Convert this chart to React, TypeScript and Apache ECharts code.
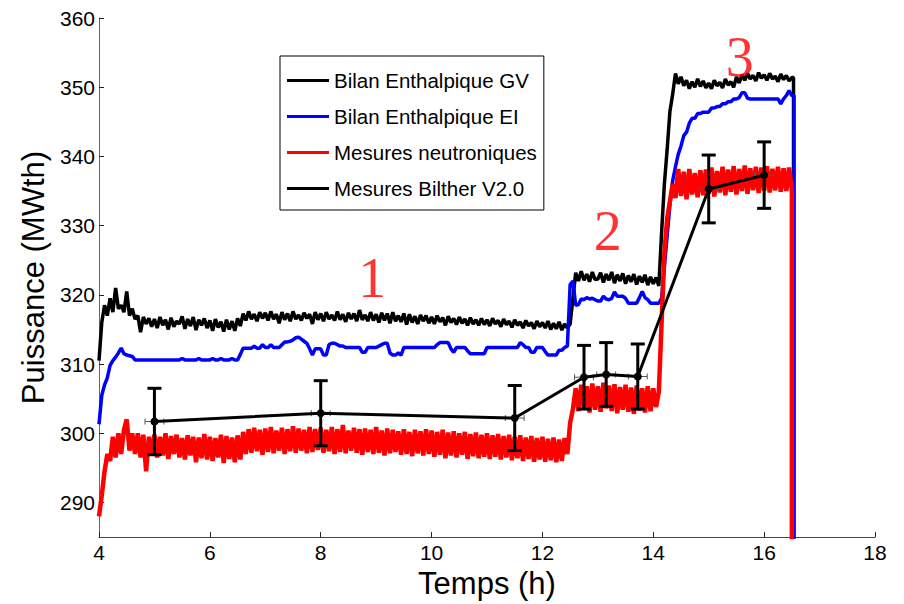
import React, { useEffect, useRef } from "react";
import * as echarts from "echarts";

// sampling grid of the recorded traces (hours)
const T0 = 4;
const DT = 0.05;

// Bilan Enthalpique GV (black)
const gvValues = [
  310.5, 316, 318.5, 317, 319.5, 317.5, 321, 318, 318.5, 317.5, 320.5, 317, 318, 316.5, 317, 314.6, 316.8, 315.8, 316.6, 315.4,
  316.5, 315.2, 316.8, 315.6, 316.4, 315, 316.7, 315.4, 316.2, 315.8, 316.9, 315.1, 316.5, 315.5, 316.8, 314.9, 316.4, 315.6, 316.6, 315.2,
  316.3, 314.8, 316.5, 315.3, 316.1, 314.7, 316.4, 315, 316.2, 314.8, 316.6, 315.5, 317.3, 316.3, 317.6, 316.5, 317.2, 316.2, 317.5, 316.6,
  317.4, 316.3, 317.6, 316.5, 317.2, 315.9, 317.5, 316.4, 317.3, 316.2, 317.6, 316.5, 317.1, 316.3, 317.4, 316.6, 317.2, 315.8, 317.5, 316.4,
  317.3, 316.2, 317.5, 316.5, 317.1, 316.3, 317.6, 316.4, 317.2, 316.1, 317.4, 316.5, 317.3, 316.2, 317.8, 316.4, 317.1, 316.2, 317.5, 316.3,
  317.2, 316, 317.4, 316.3, 317.3, 315.9, 317.5, 316.2, 317, 316.1, 317.3, 315.7, 317.2, 316, 316.9, 315.8, 317.1, 316.2, 317, 315.9,
  316.8, 315.8, 317, 316.1, 316.7, 315.6, 316.9, 316, 316.6, 315.7, 316.8, 315.9, 316.5, 315.6, 316.7, 315.8, 316.4, 315.6, 316.6, 315.7,
  316.4, 315.5, 316.6, 315.8, 316.3, 315.4, 316.5, 315.7, 316.2, 315.3, 316.4, 315.6, 316.1, 315.2, 316.3, 315.5, 316, 315.1, 316.2, 315.4,
  316, 315.2, 316.2, 315, 315.9, 315.1, 316.1, 314.9, 315.8, 315.2, 315.8, 319.5, 323.2, 322, 323.4, 322.1, 323, 321.9, 323.3, 322.2,
  322.3, 323.2, 321.8, 323, 322.1, 323.3, 321.7, 322.9, 322, 323.1, 321.6, 322.8, 321.9, 323, 321.5, 322.7, 321.8, 322.9, 321.4, 322.6,
  321.6, 322.5, 321.3, 329, 336, 341, 346.5, 349, 352, 350.5, 351.5, 350.2, 351, 349.8, 350.8, 350, 351.2, 350.1, 350.9, 349.9,
  350.6, 349.8, 351, 350.2, 350.7, 349.9, 351.2, 350.3, 350.8, 350, 351.5, 350.6, 351.8, 351, 352, 351.2, 351.7, 350.9, 352.1, 351.3,
  351.8, 351, 352, 351.2, 351.6, 350.8, 351.9, 351.1, 351.7, 350.9, 351.4,
];

// Bilan Enthalpique EI (blue)
const eiValues = [
  301.3, 305.5, 307, 308, 309.8, 310.5, 311, 311.6, 312.3, 311.5, 311.3, 311.2, 311.1, 310.6, 310.6, 310.6, 310.6, 310.6, 310.6, 310.6,
  310.6, 310.6, 310.6, 310.6, 310.6, 310.6, 310.6, 310.6, 310.6, 310.6, 310.8, 310.6, 310.6, 310.6, 310.6, 310.6, 310.8, 310.6, 310.6, 310.6,
  310.6, 310.8, 310.6, 310.6, 310.8, 310.6, 310.6, 310.6, 310.8, 310.6, 310.6, 311.4, 312.3, 312.3, 312.3, 312.3, 312.6, 312.3, 312.3, 312.8,
  312.4, 312.4, 312.8, 312.4, 312.4, 312.4, 312.8, 313.2, 313.2, 313.3, 313.5, 313.8, 313.9, 313.6, 313.3, 313, 312.2, 311.3, 312.2, 312.2,
  312.2, 311.3, 311.3, 312.8, 313, 313, 312.8, 312.6, 312.6, 312.4, 312.4, 312.4, 312.4, 312.4, 312.4, 311.7, 311.7, 312.4, 312.4, 312.4,
  312.4, 312.6, 312.8, 313, 313, 311.6, 311.3, 311.3, 311.6, 311.3, 312.4, 312.4, 312.4, 312.4, 312.4, 312.4, 312.4, 312.4, 312.4, 312.4,
  312.4, 312.4, 312.8, 313.1, 313.1, 313.1, 313.1, 312.2, 311.7, 312.4, 312.4, 312.4, 312.4, 311.9, 311.5, 311.5, 311.5, 311.5, 311.5, 311.5,
  312.4, 312.4, 312.4, 312.4, 312.4, 312.4, 312.4, 312.4, 312.4, 312.4, 312.4, 312.4, 313.1, 312.8, 312.4, 312.4, 311.7, 311.7, 312.4, 312.4,
  312.4, 311.8, 311.3, 311.3, 311.3, 311.3, 312, 312, 312.4, 312.6, 321.5, 322, 318.5, 318.6, 319.4, 319.3, 319.6, 319.4, 319.5, 319.3,
  319.1, 319.1, 319.8, 319.4, 319.3, 319.5, 320.4, 319.8, 319.8, 319.8, 319.5, 318.8, 318.8, 318.8, 318.8, 319.6, 320.5, 319.6, 319.3, 318.8,
  318.8, 318.8, 318.8, 319.5, 324, 328.5, 333, 336.5, 338.5, 340.3, 341.5, 343, 343.5, 344.8, 345.5, 345.5, 346.2, 346.2, 346.4, 346.4,
  346.4, 347, 347, 347.2, 347.2, 347.6, 347.6, 347.9, 347.9, 348.3, 348.3, 348.5, 349.2, 349.2, 348.4, 348.3, 348.3, 348.3, 348.3, 348.3,
  348.3, 348.3, 348.3, 348.3, 348.3, 348.3, 347.6, 348.3, 348.8, 349.5, 348.8,
];

// Mesures neutroniques (red)
const neutValues = [
  288, 291, 294.5, 297, 296, 299.5, 296.5, 300, 297, 300.5, 302, 297.5, 300, 297, 300, 296.5, 299.8, 294.5, 299.5, 297,
  299.8, 296.5, 299.5, 296.8, 300, 296.3, 299.6, 297, 299.8, 296.5, 299.3, 296.2, 299.7, 296.8, 299.5, 295.8, 299.4, 296.4, 299.9, 296.2,
  299.5, 296, 299.3, 296.5, 299.8, 295.7, 299.6, 296.3, 299.4, 295.8, 299.7, 296.2, 300.2, 297, 300.6, 297.2, 300.8, 297.4, 300.5, 296.9,
  300.7, 297.3, 300.9, 297.1, 300.4, 297.5, 300.8, 297, 300.6, 297.4, 301, 297.2, 300.7, 297.5, 300.5, 297.1, 300.9, 297.3, 300.6, 297.6,
  300.8, 297.2, 300.5, 297.4, 300.9, 297, 300.6, 297.3, 301.2, 297.1, 300.4, 297.5, 300.8, 297.2, 300.6, 296.9, 300.7, 297.3, 300.5, 297,
  300.9, 297.2, 300.4, 296.8, 300.7, 297.1, 300.5, 297.3, 300.3, 296.9, 300.6, 297, 300.2, 296.7, 300.5, 297.1, 300.3, 296.8, 300.6, 297,
  300.4, 296.6, 300.2, 296.9, 300.5, 296.4, 300.1, 296.8, 300.3, 296.5, 300, 296.9, 300.2, 296.3, 299.9, 296.7, 300.1, 296.4, 299.8, 296.6,
  300, 296.3, 299.7, 296.6, 299.9, 296.2, 299.6, 296.5, 299.8, 296.1, 299.5, 296.4, 299.7, 296, 299.4, 296.3, 299.6, 295.9, 299.3, 296.2,
  299.5, 295.9, 299.2, 296.1, 299.4, 295.8, 299.1, 296, 299.3, 297, 301.5, 303.5, 306.5, 303.2, 307, 303.5, 306.8, 303, 307.2, 303.4,
  306.8, 303.1, 307.3, 303.6, 306.9, 303.2, 307.1, 302.9, 306.7, 303.4, 307, 303.1, 306.6, 302.8, 306.9, 303.3, 306.5, 303, 306.8, 303.2,
  306.5, 303.8, 306, 316, 326, 331, 333.5, 336, 334, 338.2, 334.3, 337.8, 333.8, 338.2, 334.5, 337.6, 334.1, 338, 334.4, 338.1,
  334.6, 338.4, 334.2, 337.9, 334.8, 338.5, 334.4, 338.1, 334.9, 338.6, 334.5, 338.2, 335, 338.7, 334.6, 338.3, 335.1, 338.5, 334.7, 338.4,
  335, 338.6, 334.8, 338.2, 335.1, 338.5, 334.9, 338.3, 335, 338.4, 335.2,
];

// end of recording: each trace falls off the bottom of the plot
const gvEnd = [16.53, 280];
const eiEnd = [16.54, 280];
const neutEnd = [16.5, 280];

// Mesures Bilther V2.0 with error bars
const bilTimes = [5.0, 8.0, 11.5, 12.75, 13.15, 13.72, 15.0, 16.0];
const bilValues = [301.7, 302.9, 302.2, 308.1, 308.5, 308.2, 335.3, 337.3];
const bilErrY = [4.8, 4.7, 4.7, 4.6, 4.6, 4.7, 4.9, 4.8];
const bilErrX = [0.17, 0.17, 0.17, 0.17, 0.17, 0.17, 0.17, 0.17];

// phase annotations
const annoText = ["1", "2", "3"];
const annoT = [8.93, 13.18, 15.56];
const annoV = [322.5, 329.2, 354.4];

const yTicks = [290, 300, 310, 320, 330, 340, 350, 360];

const SANS = "'Liberation Sans', Arial, Helvetica, sans-serif";

function toPairs(vals: number[], end: number[]) {
  const out: number[][] = vals.map((v, i) => [T0 + i * DT, v]);
  out.push([end[0], out[out.length - 1][1]]);
  out.push(end);
  return out;
}

export default function App() {
  const ref = useRef<HTMLDivElement>(null);
  useEffect(() => {
    document.body.style.margin = "0";
    const chart = echarts.init(ref.current!, null, { renderer: "svg" });
    const option: any = {
      animation: false,
      backgroundColor: "#fff",
      grid: { left: 99, right: 29, top: 18, bottom: 60, containLabel: false },
      legend: {
        orient: "vertical",
        left: 280,
        top: 56,
        padding: [14, 7, 11, 7],
        itemGap: 15,
        itemWidth: 42,
        itemHeight: 3,
        borderColor: "#000",
        borderWidth: 1,
        borderRadius: 0,
        backgroundColor: "#fff",
        selectedMode: false,
        textStyle: { fontSize: 20.5, color: "#000", fontFamily: SANS },
        data: [
          { name: "Bilan Enthalpique GV", icon: "rect" },
          { name: "Bilan Enthalpique EI", icon: "rect" },
          { name: "Mesures neutroniques", icon: "rect" },
          { name: "Mesures Bilther V2.0", icon: "rect" },
        ],
      },
      xAxis: {
        type: "value",
        min: 4,
        max: 18,
        interval: 2,
        name: "Temps (h)",
        nameLocation: "middle",
        nameGap: 16,
        nameTextStyle: { fontSize: 31, color: "#000", fontFamily: SANS, verticalAlign: "top" },
        axisLine: { show: true, onZero: false, lineStyle: { color: "#444", width: 1 } },
        axisTick: { show: true, inside: true, length: 5, lineStyle: { color: "#222" } },
        axisLabel: { fontSize: 21, color: "#000", fontFamily: SANS, margin: 5 },
        splitLine: { show: false },
      },
      yAxis: {
        type: "value",
        min: 285,
        max: 360,
        name: "Puissance (MWth)",
        nameLocation: "middle",
        nameGap: 48,
        nameTextStyle: { fontSize: 31, color: "#000", fontFamily: SANS },
        axisLine: { show: true, lineStyle: { color: "#666", width: 1 } },
        axisTick: { show: true, inside: true, length: 5, customValues: yTicks, lineStyle: { color: "#222" } },
        axisLabel: { fontSize: 21, color: "#000", fontFamily: SANS, margin: 4, customValues: yTicks },
        splitLine: { show: false },
      },
      series: [
        {
          name: "Bilan Enthalpique GV",
          type: "line",
          data: toPairs(gvValues, gvEnd),
          symbol: "none",
          color: "#000000",
          lineStyle: { width: 3.5, color: "#000000" },
          z: 2,
        },
        {
          name: "Bilan Enthalpique EI",
          type: "line",
          data: toPairs(eiValues, eiEnd),
          symbol: "none",
          color: "#0000ff",
          lineStyle: { width: 3.5, color: "#0000ff" },
          z: 2,
        },
        {
          name: "Mesures neutroniques",
          type: "line",
          data: toPairs(neutValues, neutEnd),
          symbol: "none",
          color: "#ff0000",
          lineStyle: { width: 4.5, color: "#ff0000", join: "bevel" },
          z: 2,
        },
        {
          name: "errbars",
          type: "custom",
          z: 3,
          data: bilTimes.map((t, i) => [t, bilValues[i], bilErrY[i], bilErrX[i]]),
          renderItem: (_params: any, api: any) => {
            const x = api.value(0);
            const y = api.value(1);
            const ey = api.value(2);
            const ex = api.value(3);
            const top = api.coord([x, y + ey]);
            const bot = api.coord([x, y - ey]);
            const l = api.coord([x - ex, y]);
            const r = api.coord([x + ex, y]);
            const cap = 7;
            const hcap = 3;
            const thin = { stroke: "#555", lineWidth: 1 };
            const thick = { stroke: "#000", lineWidth: 3 };
            return {
              type: "group",
              children: [
                { type: "line", shape: { x1: l[0], y1: l[1], x2: r[0], y2: r[1] }, style: thin },
                { type: "line", shape: { x1: l[0], y1: l[1] - hcap, x2: l[0], y2: l[1] + hcap }, style: thin },
                { type: "line", shape: { x1: r[0], y1: r[1] - hcap, x2: r[0], y2: r[1] + hcap }, style: thin },
                { type: "line", shape: { x1: top[0], y1: top[1], x2: bot[0], y2: bot[1] }, style: thick },
                { type: "line", shape: { x1: top[0] - cap, y1: top[1], x2: top[0] + cap, y2: top[1] }, style: thick },
                { type: "line", shape: { x1: bot[0] - cap, y1: bot[1], x2: bot[0] + cap, y2: bot[1] }, style: thick },
              ],
            };
          },
        },
        {
          name: "Mesures Bilther V2.0",
          type: "line",
          data: bilTimes.map((t, i) => [t, bilValues[i]]),
          symbol: "circle",
          symbolSize: 8,
          color: "#000000",
          itemStyle: { color: "#000000" },
          lineStyle: { width: 3, color: "#000000" },
          z: 4,
        },
        {
          name: "annotations",
          type: "scatter",
          symbolSize: 1,
          itemStyle: { color: "rgba(0,0,0,0)" },
          silent: true,
          z: 5,
          data: annoText.map((s, i) => ({ name: s, value: [annoT[i], annoV[i]] })),
          label: {
            show: true,
            position: "inside",
            formatter: "{b}",
            fontSize: 56,
            color: "#ff0000",
            fontFamily: "'Liberation Serif', 'Times New Roman', serif",
          },
        },
      ],
    };
    chart.setOption(option);
    return () => chart.dispose();
  }, []);
  return <div ref={ref} style={{ width: 904, height: 604 }} />;
}
